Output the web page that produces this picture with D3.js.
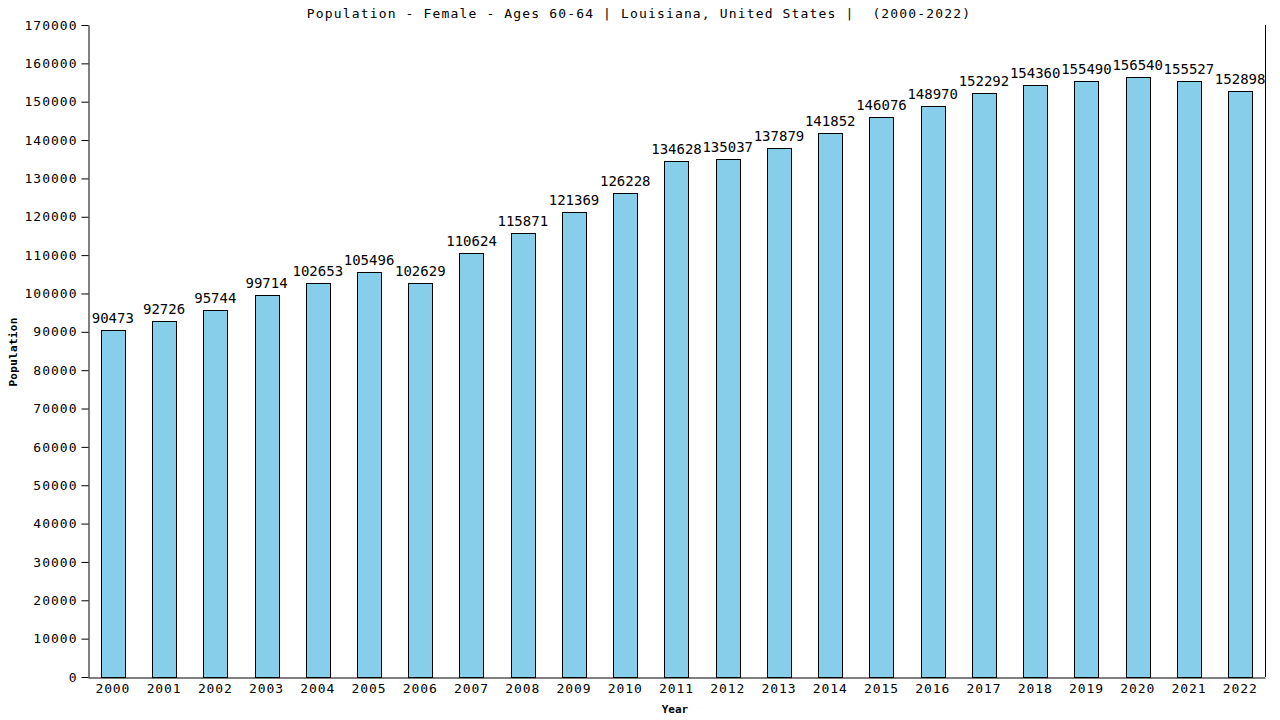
<!DOCTYPE html>
<html>
<head>
<meta charset="utf-8">
<script src="https://cdn.jsdelivr.net/npm/d3@7"></script>
<style>
  body { margin: 0; background: #fff; }
  text { font-family: "DejaVu Sans Mono", monospace; }
</style>
</head>
<body>
<script>
// data
const years = ['2000', '2001', '2002', '2003', '2004', '2005', '2006', '2007', '2008', '2009', '2010', '2011',
    '2012', '2013', '2014', '2015', '2016', '2017', '2018', '2019', '2020', '2021', '2022'];
const population = [90473, 92726, 95744, 99714, 102653, 105496, 102629, 110624, 115871, 121369, 126228, 134628,
    135037, 137879, 141852, 146076, 148970, 152292, 154360, 155490, 156540, 155527, 152898];
const yTicks = d3.range(0, 170001, 10000);

const svgWidth = 1280;
const svgHeight = 720;
const margin = {top: 25, right: 15, bottom: 43, left: 88};
const chartWidth = svgWidth - margin.left - margin.right;
const chartHeight = svgHeight - margin.top - margin.bottom;

const svg = d3.select('body').append('svg')
    .attr('width', svgWidth)
    .attr('height', svgHeight);

const g = svg.append('g')
    .attr('transform', `translate(${margin.left}, ${margin.top})`);

const scaleX = d3.scaleBand()
    .domain(years)
    .range([0, chartWidth])
    .paddingInner(0.53)
    .paddingOuter(0.25);

const scaleY = d3.scaleLinear()
    .domain([0, 170000])
    .range([chartHeight, 0]);

// bars
g.selectAll('rect.bar')
    .data(years)
    .join('rect')
    .attr('class', 'bar')
    .attr('x', d => Math.round(scaleX(d)) + 0.5)
    .attr('y', (d, i) => Math.round(scaleY(population[i])) + 0.5)
    .attr('width', Math.round(scaleX.bandwidth()))
    .attr('height', (d, i) => chartHeight - Math.round(scaleY(population[i])))
    .attr('fill', 'skyblue')
    .attr('stroke', 'black')
    .attr('stroke-width', 1);

// value labels
g.selectAll('text.val')
    .data(years)
    .join('text')
    .attr('class', 'val')
    .attr('x', d => scaleX(d) + scaleX.bandwidth() / 2)
    .attr('y', (d, i) => scaleY(population[i]) - 7)
    .attr('text-anchor', 'middle')
    .attr('font-size', 14)
    .text((d, i) => population[i]);

// y axis
const yAxis = g.append('g')
    .attr('transform', 'translate(0.5,0)')
    .call(d3.axisLeft(scaleY).tickValues(yTicks).tickSize(7).tickSizeOuter(0).tickPadding(4).tickFormat(d => d));
yAxis.selectAll('text')
    .attr('font-size', 13)
    .attr('letter-spacing', 1)
    .attr('font-family', '"DejaVu Sans Mono", monospace');
yAxis.select('.domain').attr('stroke', 'black');

// x axis
const xAxis = g.append('g')
    .attr('transform', `translate(0,${chartHeight + 0.5})`)
    .call(d3.axisBottom(scaleX).tickSize(0).tickSizeOuter(0).tickPadding(6));
xAxis.selectAll('text')
    .attr('font-size', 13)
    .attr('letter-spacing', 0.9)
    .attr('font-family', '"DejaVu Sans Mono", monospace');
xAxis.select('.domain').attr('stroke', 'black');

// right border
g.append('line')
    .attr('x1', chartWidth + 0.5)
    .attr('x2', chartWidth + 0.5)
    .attr('y1', 0)
    .attr('y2', chartHeight)
    .attr('stroke', 'black');

// title (keep the double space)
svg.append('text')
    .attr('x', 639)
    .attr('y', 18)
    .attr('text-anchor', 'middle')
    .attr('font-size', 13)
    .attr('letter-spacing', 1.15)
    .style('white-space', 'pre')
    .text('Population - Female - Ages 60-64 | Louisiana, United States |  (2000-2022)');

// axis titles
svg.append('text')
    .attr('x', 675)
    .attr('y', 713)
    .attr('text-anchor', 'middle')
    .attr('font-size', 11)
    .attr('font-weight', 'bold')
    .text('Year');

svg.append('text')
    .attr('transform', 'translate(17,352) rotate(-90)')
    .attr('text-anchor', 'middle')
    .attr('font-size', 11)
    .attr('font-weight', 'bold')
    .attr('letter-spacing', 0.3)
    .text('Population');
</script>
</body>
</html>
